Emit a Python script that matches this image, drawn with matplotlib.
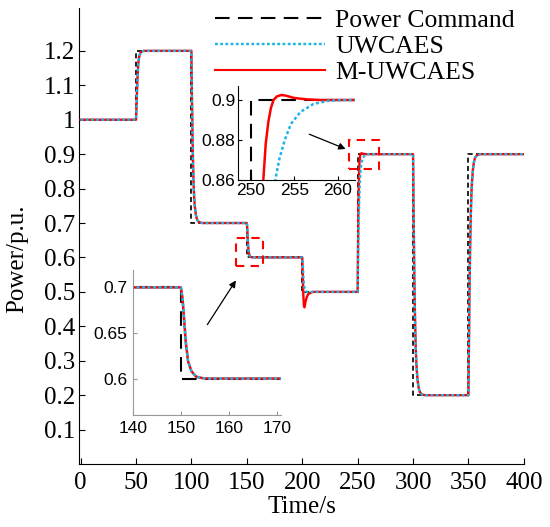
import matplotlib
matplotlib.use("Agg")
import matplotlib.pyplot as plt
from matplotlib.lines import Line2D
from matplotlib.patches import Rectangle

# ─── Data ────────────────────────────────────────────────────────────────────
step_times = [0, 50, 100, 150, 200, 250, 300, 350, 400]
cmd_levels = [1.0, 1.2, 0.7, 0.6, 0.5, 0.9, 0.2, 0.9, 0.9]

uw_t = [0, 50, 50.5, 51, 51.5, 52, 52.5, 53, 54, 55, 57,
        100, 100.5, 101, 101.5, 102, 102.5, 103, 104, 105, 106, 108, 110,
        150, 150.34, 150.6, 151, 151.5, 152.2, 153.2, 154.6, 156,
        200, 200.4, 200.7, 201.1, 201.6, 202.3, 203.3, 204.7, 206,
        250, 250.5, 251, 251.5, 252, 252.4, 252.8, 253.3, 253.9, 254.6, 255.7, 257.2, 259, 261,
        300, 300.5, 301, 301.5, 302, 302.5, 303, 304, 305, 306, 308, 311,
        350, 350.5, 351, 351.5, 352, 352.5, 353, 354, 355, 356, 358, 361, 400]
uw_p = [1.0, 1.0, 1.04, 1.09, 1.13, 1.16, 1.175, 1.185, 1.194, 1.198, 1.2,
        1.2, 1.06, 0.95, 0.87, 0.81, 0.775, 0.75, 0.724, 0.711, 0.705, 0.701, 0.7,
        0.7, 0.688, 0.67, 0.641, 0.619, 0.608, 0.602, 0.6004, 0.6,
        0.6, 0.588, 0.57, 0.541, 0.519, 0.508, 0.502, 0.5004, 0.5,
        0.5, 0.62, 0.71, 0.77, 0.815, 0.842, 0.86, 0.871, 0.88, 0.888, 0.894, 0.898, 0.8997, 0.9,
        0.9, 0.73, 0.58, 0.47, 0.39, 0.33, 0.29, 0.245, 0.222, 0.21, 0.202, 0.2,
        0.2, 0.37, 0.52, 0.63, 0.71, 0.77, 0.81, 0.855, 0.878, 0.89, 0.898, 0.9, 0.9]

muw_t = [0, 50, 50.5, 51, 51.5, 52, 52.5, 53, 54, 55, 57,
         100, 100.5, 101, 101.5, 102, 102.5, 103, 104, 105, 106, 108, 110,
         150, 150.34, 150.6, 151, 151.5, 152.2, 153.2, 154.6, 156,
         200, 200.5, 201, 201.5, 202, 202.5, 203, 204, 205, 206, 208, 210,
         250, 250.3, 250.6, 251, 251.2, 251.42, 251.7, 252, 252.3, 252.6, 253, 253.5, 254,
         255, 256.5, 258,
         300, 300.5, 301, 301.5, 302, 302.5, 303, 304, 305, 306, 308, 311,
         350, 350.5, 351, 351.5, 352, 352.5, 353, 354, 355, 356, 358, 361, 400]
muw_p = [1.0, 1.0, 1.04, 1.09, 1.13, 1.16, 1.175, 1.185, 1.194, 1.198, 1.2,
         1.2, 1.06, 0.95, 0.87, 0.81, 0.775, 0.75, 0.724, 0.711, 0.705, 0.701, 0.7,
         0.7, 0.688, 0.67, 0.641, 0.619, 0.608, 0.602, 0.6004, 0.6,
         0.6, 0.55, 0.49, 0.46, 0.455, 0.462, 0.472, 0.484, 0.491, 0.495, 0.498, 0.5,
         0.5, 0.62, 0.72, 0.8, 0.834, 0.86, 0.878, 0.889, 0.896, 0.9, 0.9018, 0.9025, 0.9022,
         0.901, 0.9003, 0.9,
         0.9, 0.73, 0.58, 0.47, 0.39, 0.33, 0.29, 0.245, 0.222, 0.21, 0.202, 0.2,
         0.2, 0.37, 0.52, 0.63, 0.71, 0.77, 0.81, 0.855, 0.878, 0.89, 0.898, 0.9, 0.9]

labels = ["Power Command", "UWCAES", "M-UWCAES"]
x_ticks = [0, 50, 100, 150, 200, 250, 300, 350, 400]
y_ticks = [0.1, 0.2, 0.3, 0.4, 0.5, 0.6, 0.7, 0.8, 0.9, 1.0, 1.1, 1.2]
y_ticklabels = ["0.1", "0.2", "0.3", "0.4", "0.5", "0.6", "0.7", "0.8", "0.9", "1", "1.1", "1.2"]

# ─── Style ───────────────────────────────────────────────────────────────────
SERIF = ["Liberation Serif", "DejaVu Serif"]
SANS = ["Liberation Sans", "DejaVu Sans"]
CYAN = "#1eb4e6"
RED = "#ff0000"
DOT = (0, (1.2, 1.0))


def draw_series(ax, lw_cmd=1.2, dash_cmd=(3, 2), lw=1.7):
    ax.plot(step_times, cmd_levels, color="black", lw=lw_cmd,
            linestyle=(0, dash_cmd), drawstyle="steps-post", zorder=2)
    ax.plot(muw_t, muw_p, color=RED, lw=lw, zorder=3)
    ax.plot(uw_t, uw_p, color=CYAN, lw=lw, linestyle=DOT, zorder=4)


fig = plt.figure(figsize=(5.5, 5.27), dpi=100)
ax = fig.add_axes([0.1445, 0.1195, 0.808, 0.865])
draw_series(ax)
ax.set_xlim(-1, 400)
ax.set_ylim(0, 1.324)
ax.set_xticks(x_ticks)
ax.set_yticks(y_ticks)
ax.set_yticklabels(y_ticklabels)
for s in ["top", "right"]:
    ax.spines[s].set_visible(False)
ax.tick_params(direction="in", length=4, labelsize=18, pad=3)
ax.tick_params(axis="x", pad=6)
for lab in ax.get_xticklabels() + ax.get_yticklabels():
    lab.set_family(SERIF)
ax.set_xlabel("Time/s", fontsize=18, family=SERIF, labelpad=1)
ax.set_ylabel("Power/p.u.", fontsize=18, family=SERIF)
ax.yaxis.set_label_coords(-0.115, 0.45)

# zoom boxes + arrows
ax.add_patch(Rectangle((140, 0.576), 25, 0.08, fill=False, ec=RED, lw=1.5,
                       linestyle=(0, (4, 3)), zorder=5))
ax.add_patch(Rectangle((242, 0.857), 27, 0.085, fill=False, ec=RED, lw=1.5,
                       linestyle=(0, (4, 3)), zorder=5))
ax.annotate("", xy=(241.5, 0.912), xytext=(204, 0.961),
            arrowprops=dict(arrowstyle="-|>", color="black", lw=0.9, mutation_scale=10))
ax.annotate("", xy=(141.5, 0.54), xytext=(113, 0.398),
            arrowprops=dict(arrowstyle="-|>", color="black", lw=0.9, mutation_scale=10))

# legend
handles = [Line2D([], [], color="black", lw=1.5, linestyle=(0, (7, 4))),
           Line2D([], [], color=CYAN, lw=1.7, linestyle=DOT),
           Line2D([], [], color=RED, lw=1.5)]
fig.legend(handles, labels, loc="upper left", bbox_to_anchor=(0.39, 0.982),
           frameon=False, prop={"family": SERIF, "size": 18.5},
           handlelength=4.3, handletextpad=0.4, labelspacing=0.1,
           borderpad=0, borderaxespad=0)

# inset 1 (t = 250)
ax1 = fig.add_axes([0.4327, 0.6584, 0.2127, 0.1784])
ax1.patch.set_alpha(0)
draw_series(ax1, lw_cmd=1.5, dash_cmd=(7, 4), lw=1.8)
ax1.set_xlim(248.5, 262)
ax1.set_ylim(0.86, 0.907)
ax1.set_xticks([250, 255, 260])
ax1.set_yticks([0.86, 0.88, 0.9])
ax1.set_yticklabels(["0.86", "0.88", "0.9"])
for s in ["top", "right"]:
    ax1.spines[s].set_visible(False)
ax1.tick_params(direction="in", length=3, labelsize=12.5, pad=2)
for lab in ax1.get_xticklabels() + ax1.get_yticklabels():
    lab.set_family(SANS)

# inset 2 (t = 150)
ax2 = fig.add_axes([0.2418, 0.2125, 0.27, 0.275])
ax2.patch.set_alpha(0)
draw_series(ax2, lw_cmd=1.5, dash_cmd=(7, 4), lw=1.8)
ax2.set_xlim(140.5, 171)
ax2.set_ylim(0.56, 0.719)
ax2.set_xticks([140, 150, 160, 170])
ax2.set_yticks([0.6, 0.65, 0.7])
ax2.set_yticklabels(["0.6", "0.65", "0.7"])
for s in ["top", "right"]:
    ax2.spines[s].set_visible(False)
for s in ["left", "bottom"]:
    ax2.spines[s].set_color("#999999")
ax2.tick_params(direction="in", length=3, labelsize=12.5, pad=4, color="#999999")
for lab in ax2.get_xticklabels() + ax2.get_yticklabels():
    lab.set_family(SANS)

fig.savefig("out.png", dpi=100)
